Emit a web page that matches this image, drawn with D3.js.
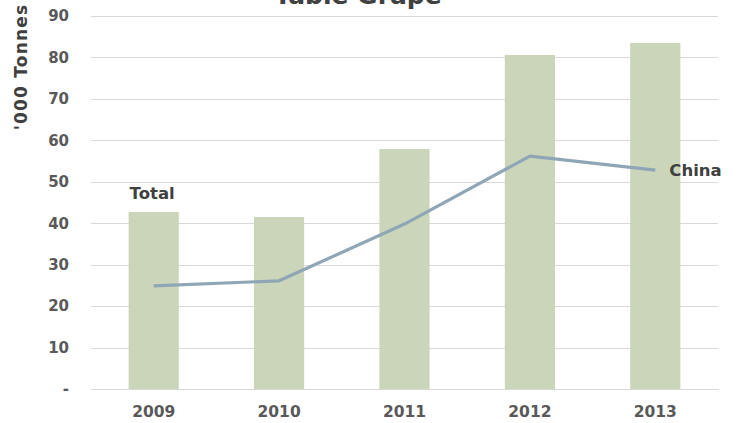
<!DOCTYPE html>
<html>
<head>
<meta charset="utf-8">
<script src="https://cdn.jsdelivr.net/npm/d3@7"></script>
<style>
  html, body { margin: 0; padding: 0; background: #fff; }
  svg { display: block; font-family: "DejaVu Sans", Verdana, sans-serif; }
</style>
</head>
<body>
<svg id="chart" width="739" height="423"></svg>
<script>
// Table grape volumes, '000 tonnes
const years = ["2009", "2010", "2011", "2012", "2013"];
const totalValues = [42.7, 41.5, 57.9, 80.6, 83.5];
const chinaValues = [24.9, 26.1, 39.8, 56.2, 52.8];
const yTicks = [0, 10, 20, 30, 40, 50, 60, 70, 80, 90];

const svg = d3.select("#chart");
const margin = { top: 16, right: 21, bottom: 34, left: 91 };
const width = 739, height = 423;
const innerW = width - margin.left - margin.right;
const innerH = height - margin.top - margin.bottom;

const x = d3.scaleBand().domain(years).range([margin.left, margin.left + innerW]).paddingInner(0.6).paddingOuter(0.3);
const xc = d => x(d) + x.bandwidth() / 2;
const y = d3.scaleLinear().domain([0, 90]).range([margin.top + innerH, margin.top]);

// horizontal gridlines
svg.append("g")
  .selectAll("line")
  .data(yTicks)
  .join("line")
  .attr("x1", margin.left).attr("x2", margin.left + innerW)
  .attr("y1", d => Math.round(y(d)) + 0.5).attr("y2", d => Math.round(y(d)) + 0.5)
  .attr("stroke", "#d9d9d9").attr("stroke-width", 1);

// y axis labels
const yAxis = d3.axisLeft(y).tickValues(yTicks).tickSize(0).tickPadding(0)
  .tickFormat(d => d === 0 ? "-" : d3.format("d")(d));
const gy = svg.append("g").attr("transform", `translate(${margin.left - 22},0)`).call(yAxis);
gy.select(".domain").remove();
gy.selectAll("text")
  .attr("fill", "#595959").attr("font-size", 15).attr("font-weight", "bold")
  .attr("font-family", "'DejaVu Sans', Verdana, sans-serif");

// bars: Total
svg.append("g")
  .selectAll("rect")
  .data(years.map((yr, i) => ({ yr, v: totalValues[i] })))
  .join("rect")
  .attr("x", d => x(d.yr)).attr("width", x.bandwidth())
  .attr("y", d => y(d.v)).attr("height", d => y(0) - y(d.v))
  .attr("fill", "#cbd5b9");

// x axis
const xAxis = d3.axisBottom(x).tickSize(0).tickPadding(17);
const gx = svg.append("g").attr("transform", `translate(0,${y(0)})`).call(xAxis);
gx.select(".domain").attr("stroke", "#d9d9d9");
gx.selectAll("text")
  .attr("fill", "#595959").attr("font-size", 15.5).attr("font-weight", "bold")
  .attr("font-family", "'DejaVu Sans', Verdana, sans-serif");

// line: China
const line = d3.line().x((d, i) => xc(years[i])).y(d => y(d));
svg.append("path")
  .datum(chinaValues)
  .attr("d", line)
  .attr("fill", "none")
  .attr("stroke", "#8fa6b6").attr("stroke-width", 3.2)
  .attr("stroke-linejoin", "round");

// series labels
svg.append("text")
  .attr("x", x(years[0]) + 1).attr("y", y(totalValues[0]) - 13)
  .attr("fill", "#404040").attr("font-size", 16.5).attr("font-weight", "bold")
  .text("Total");
svg.append("text")
  .attr("x", xc(years[4]) + 14).attr("y", y(chinaValues[4]) + 6)
  .attr("fill", "#404040").attr("font-size", 16.5).attr("font-weight", "bold")
  .text("China");

// y axis title
svg.append("text")
  .attr("transform", `translate(27,67) rotate(-90)`)
  .attr("text-anchor", "middle")
  .attr("fill", "#404040").attr("font-size", 17).attr("font-weight", "bold")
  .attr("letter-spacing", 1.2)
  .text("'000 Tonnes");

// chart title
svg.append("text")
  .attr("x", 358).attr("y", 4)
  .attr("text-anchor", "middle")
  .attr("fill", "#404040").attr("font-size", 25).attr("font-weight", "bold")
  .text("Table Grape");
</script>
</body>
</html>
